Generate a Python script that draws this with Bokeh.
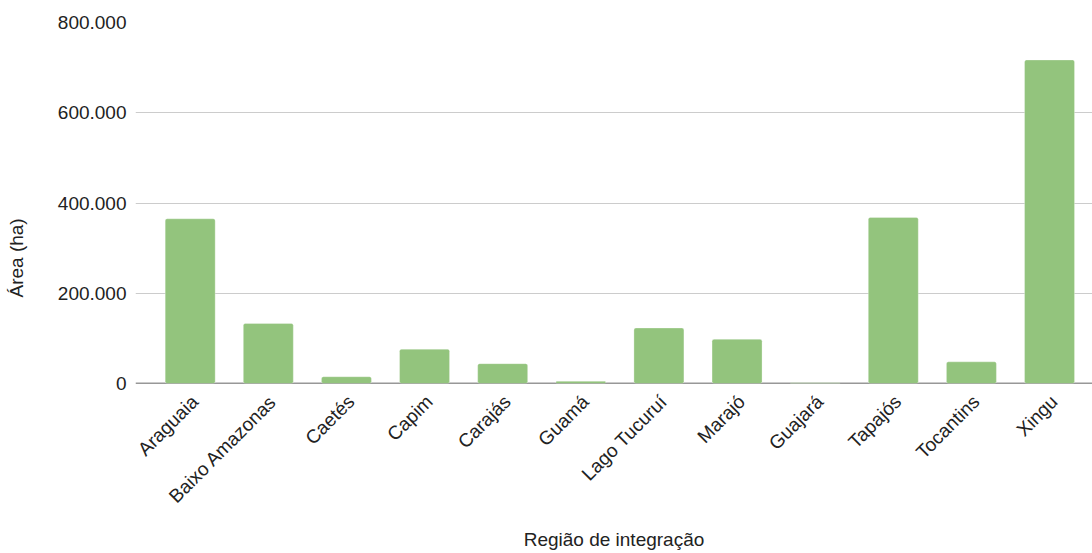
from math import pi
from bokeh.plotting import figure
from bokeh.models import Range1d, FixedTicker, Span, Title, LinearAxis
from bokeh.embed import file_html
from bokeh.resources import INLINE

# Area (ha) per integration region of Pará
regions = ["Araguaia", "Baixo Amazonas", "Caetés", "Capim", "Carajás", "Guamá",
           "Lago Tucuruí", "Marajó", "Guajará", "Tapajós", "Tocantins", "Xingu"]
area_ha = [365000, 133000, 15000, 76000, 44000, 5000,
           123000, 98000, 1500, 368000, 48000, 717000]

y_ticks = [0, 200000, 400000, 600000, 800000]
y_tick_labels = ["0", "200.000", "400.000", "600.000", "800.000"]

FONT = "Liberation Sans"
SIZE = "19px"
TEXT = "#222222"

x_pos = [i + 0.5 for i in range(len(regions))]
# rotated labels sit slightly right of the bar centres
label_pos = [x + 0.06 for x in x_pos]

p = figure(width=1092, height=553, output_backend="svg", toolbar_location=None,
           x_range=Range1d(-0.2, 12.05), y_range=Range1d(0, 800000),
           min_border_left=0, min_border_right=0, min_border_top=22,
           min_border_bottom=169)
p.outline_line_color = None
p.background_fill_color = "white"
p.border_fill_color = "white"

p.vbar(x=x_pos, top=area_ha, width=0.64, bottom=0, fill_color="#93c47d",
       line_color="#ffffff", line_alpha=0.6, line_width=0.5, border_radius=2)

baseline = Span(location=0, dimension="width", line_color="#333333",
                line_width=1.3, level="underlay")
p.add_layout(baseline)

# x axis: region names, rotated
p.xaxis.ticker = FixedTicker(ticks=label_pos)
p.xaxis.major_label_overrides = {x: r for x, r in zip(label_pos, regions)}
p.xaxis.major_label_orientation = pi / 4
p.xaxis.axis_line_color = None
p.xaxis.major_tick_line_color = None
p.xaxis.minor_tick_line_color = None
p.xaxis.major_tick_out = 0
p.xaxis.major_tick_in = 0
p.xaxis.major_label_standoff = 15
p.xaxis.major_label_text_font = FONT
p.xaxis.major_label_text_font_size = SIZE
p.xaxis.major_label_text_color = TEXT
p.xaxis.axis_label = "Região de integração"
p.xaxis.axis_label_text_font = FONT
p.xaxis.axis_label_text_font_size = SIZE
p.xaxis.axis_label_text_font_style = "normal"
p.xaxis.axis_label_text_color = TEXT
p.xaxis.axis_label_standoff = 12

# y axis
p.yaxis.ticker = FixedTicker(ticks=y_ticks)
p.yaxis.major_label_overrides = {t: l for t, l in zip(y_ticks, y_tick_labels)}
p.yaxis.axis_line_color = None
p.yaxis.major_tick_line_color = None
p.yaxis.minor_tick_line_color = None
p.yaxis.major_tick_out = 0
p.yaxis.major_tick_in = 0
p.yaxis.major_label_standoff = 9
p.yaxis.major_label_text_font = FONT
p.yaxis.major_label_text_font_size = SIZE
p.yaxis.major_label_text_color = TEXT

# blank gap between the tick labels and the y title (invisible tick only)
gap = LinearAxis(ticker=FixedTicker(ticks=[0]), axis_line_color=None,
                 major_tick_line_color=None, minor_tick_line_color=None,
                 major_tick_out=21, major_tick_in=0, major_label_standoff=0,
                 major_label_text_alpha=0, major_label_text_font_size="1px")
p.add_layout(gap, "left")

# y axis title, a little below the middle of the value range
y_title = Title(text="Área (ha)", align="left", offset=86, standoff=10,
                vertical_align="top",
                text_font=FONT, text_font_size=SIZE, text_font_style="normal",
                text_color=TEXT)
p.add_layout(y_title, "left")

p.xgrid.grid_line_color = None
p.ygrid.ticker = FixedTicker(ticks=y_ticks[1:])
p.ygrid.grid_line_color = "#cccccc"
p.ygrid.grid_line_width = 1

open("out.html", "w").write(file_html(p, INLINE))
